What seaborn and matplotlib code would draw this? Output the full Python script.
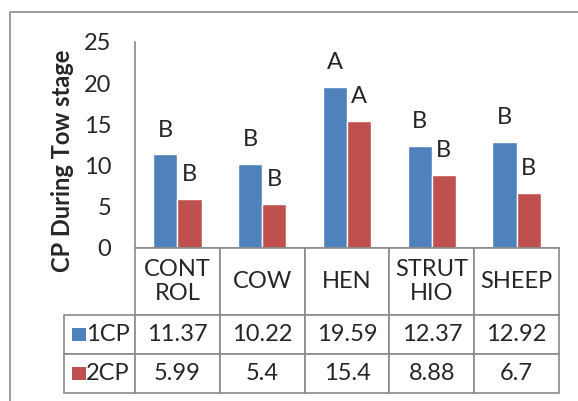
import pandas as pd
import matplotlib.pyplot as plt
import seaborn as sns
from matplotlib.table import Table
from matplotlib.patches import Rectangle

# Datos
categories = ["CONTROL", "COW", "HEN", "STRUTHIO", "SHEEP"]
header_labels = ["CONT\nROL", "COW", "HEN", "STRUT\nHIO", "SHEEP"]
series = ["1CP", "2CP"]
values_1cp = [11.37, 10.22, 19.59, 12.37, 12.92]
values_2cp = [5.99, 5.4, 15.4, 8.88, 6.7]
letters_1cp = ["B", "B", "A", "B", "B"]
letters_2cp = ["B", "B", "A", "B", "B"]
yticks = [0, 5, 10, 15, 20, 25]

df = pd.DataFrame({
    "grupo": categories * 2,
    "serie": [series[0]] * len(categories) + [series[1]] * len(categories),
    "valor": values_1cp + values_2cp,
})

sns.set_style("white")
plt.rcParams["font.family"] = ["Lato", "DejaVu Sans"]
fs = 17

W, H = 578, 401
fig = plt.figure(figsize=(W / 100, H / 100), dpi=100)
gris = "#8a8a8a"
palette = {"1CP": "#4F81BD", "2CP": "#C0504D"}

# marco exterior
fig.add_artist(Rectangle((10 / W, -0.05), 1.0, (H - 12) / H + 0.05,
                         transform=fig.transFigure, fill=False,
                         edgecolor=gris, lw=1.2))

# area del grafico
ax = fig.add_axes([135 / W, (H - 248) / H, (559 - 135) / W, (248 - 42) / H])
sns.barplot(data=df, x="grupo", y="valor", hue="serie", order=categories,
            hue_order=series, palette=palette, width=0.57, saturation=1,
            legend=False, ax=ax)

ax.set_ylim(0, 25)
ax.set_yticks(yticks)
ax.set_xticks([])
ax.set_xlabel("")
ax.set_ylabel("")
ax.tick_params(axis="y", length=0, pad=17, labelsize=fs)
for s in ["top", "right"]:
    ax.spines[s].set_visible(False)
for s in ["left", "bottom"]:
    ax.spines[s].set_color(gris)
    ax.spines[s].set_linewidth(1.2)

for cont, letras in zip(ax.containers, [letters_1cp, letters_2cp]):
    for bar, letra in zip(cont, letras):
        ax.annotate(letra, (bar.get_x() + bar.get_width() / 2, bar.get_height()),
                    xytext=(0, 17.5), textcoords="offset points",
                    ha="center", va="center", fontsize=fs)

fig.text(63 / W, (H - 161) / H, "CP During Tow stage", rotation=90,
         ha="center", va="center", fontsize=fs, fontweight="bold")

# tabla de datos
tax = fig.add_axes([64 / W, (H - 393) / H, (559 - 64) / W, (393 - 248) / H])
tax.axis("off")
tbl = Table(tax, bbox=[0, 0, 1, 1])
wl, wc = 71, 84.8
hh, hr = 67, 39
for j, lab in enumerate(header_labels):
    c = tbl.add_cell(0, j + 1, wc, hh, text=lab, loc="center", edgecolor=gris)
    c.get_text().set_linespacing(1.2)
for i, (nombre, vals) in enumerate(zip(series, [values_1cp, values_2cp])):
    c = tbl.add_cell(i + 1, 0, wl, hr, text=nombre, loc="right", edgecolor=gris)
    c.PAD = 0.08
    for j, v in enumerate(vals):
        tbl.add_cell(i + 1, j + 1, wc, hr, text=f"{v:g}", loc="center", edgecolor=gris)
tbl.auto_set_font_size(False)
tbl.set_fontsize(fs)
for cell in tbl.get_celld().values():
    cell.set_linewidth(1.2)
tax.add_table(tbl)

# cuadritos de la leyenda
total_h = hh + 2 * hr
for i, nombre in enumerate(series):
    yc = (2 * hr - (i * hr + hr / 2)) / total_h
    tax.add_patch(Rectangle((8 / 495, yc - 6.5 / total_h), 14 / 495, 13 / total_h,
                            transform=tax.transAxes, facecolor=palette[nombre],
                            edgecolor="none", clip_on=False))

plt.savefig("out.png", dpi=100)
plt.close()
